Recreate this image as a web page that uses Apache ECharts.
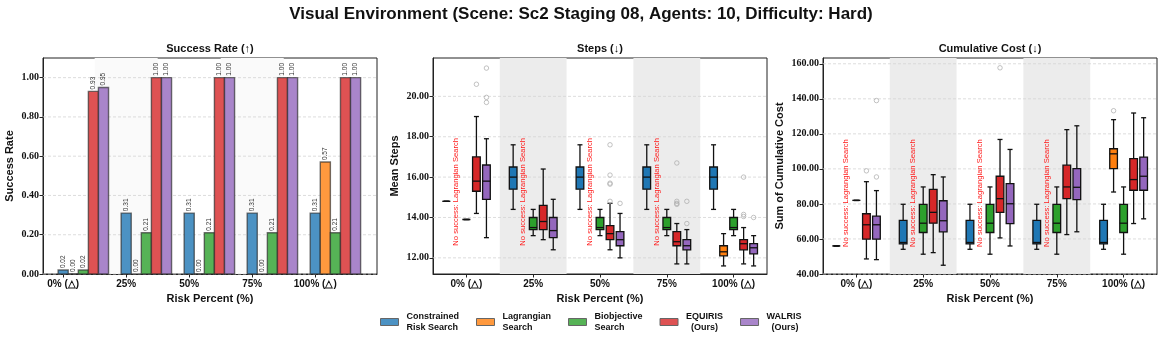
<!DOCTYPE html>
<html lang="en">
<head>
<meta charset="UTF-8">
<title>Visual Environment</title>
<style>html,body{margin:0;padding:0;background:#fff}</style>
</head>
<body>
<div id="main" style="width:1162px;height:343px"></div>
<script src="https://cdn.jsdelivr.net/npm/echarts@6/dist/echarts.min.js"></script>
<script>
// ---- data ----
var categories = ['0% (△)', '25%', '50%', '75%', '100% (△)'];
var methods = ['Constrained\nRisk Search', 'Lagrangian\nSearch', 'Biobjective\nSearch', 'EQUIRIS\n  (Ours)', 'WALRIS\n  (Ours)'];

// success rate, one value per category
var srConstrained = [0.02, 0.31, 0.31, 0.31, 0.31];
var srLagrangian  = [0.00, 0.00, 0.00, 0.00, 0.57];
var srBiobjective = [0.02, 0.21, 0.21, 0.21, 0.21];
var srEquiris     = [0.93, 1.00, 1.00, 1.00, 1.00];
var srWalris      = [0.95, 1.00, 1.00, 1.00, 1.00];

// mean steps boxes: [low whisker, q1, median, q3, high whisker], null = no success
var stepsConstrained = [[14.8, 14.8, 14.8, 14.8, 14.8], [14.4, 15.4, 16.0, 16.5, 17.6], [14.4, 15.4, 16.0, 16.5, 17.6], [14.4, 15.4, 16.0, 16.5, 17.6], [14.4, 15.4, 16.0, 16.5, 17.6]];
var stepsLagrangian  = [null, null, null, null, [11.6, 12.1, 12.3, 12.6, 13.2]];
var stepsBiobjective = [[13.9, 13.9, 13.9, 13.9, 13.9], [13.1, 13.4, 13.5, 14.0, 14.4], [13.1, 13.4, 13.5, 14.0, 14.4], [13.1, 13.4, 13.5, 14.0, 14.4], [13.1, 13.4, 13.5, 14.0, 14.4]];
var stepsEquiris     = [[14.2, 15.3, 15.8, 17.0, 19.0], [12.9, 13.4, 13.8, 14.6, 16.4], [12.4, 12.9, 13.2, 13.6, 14.7], [11.7, 12.6, 12.8, 13.3, 13.7], [11.7, 12.4, 12.7, 12.9, 13.5]];
var stepsWalris      = [[13.0, 14.9, 15.8, 16.6, 17.9], [12.4, 13.0, 13.35, 14.0, 14.9], [12.0, 12.6, 12.9, 13.3, 14.2], [11.7, 12.4, 12.6, 12.9, 13.4], [11.6, 12.2, 12.5, 12.7, 13.1]];
// outliers: [category, value]
var stepsOutEquiris = [[0, 20.6], [2, 17.6], [2, 16.1], [2, 15.7], [2, 15.65], [2, 14.8], [3, 16.7], [3, 14.8], [3, 14.7], [3, 14.65], [4, 16.0], [4, 14.15], [4, 14.05]];
var stepsOutWalris  = [[0, 21.4], [0, 19.95], [0, 19.7], [2, 14.7], [3, 14.8], [3, 13.7], [4, 14.0]];

// cumulative cost boxes
var costConstrained = [[56, 56, 56, 56, 56], [54.1, 57.2, 58.0, 70.6, 79.8], [54.1, 57.2, 58.0, 70.6, 79.8], [54.1, 57.2, 58.0, 70.6, 79.8], [54.1, 57.2, 58.0, 70.6, 79.8]];
var costLagrangian  = [null, null, null, null, [86.8, 100.2, 108.6, 111.5, 128.1]];
var costBiobjective = [[82, 82, 82, 82, 82], [51.3, 63.7, 69.0, 79.8, 89.7], [51.3, 63.7, 69.0, 79.8, 89.7], [51.3, 63.7, 69.0, 79.8, 89.7], [51.3, 63.7, 69.0, 79.8, 89.7]];
var costEquiris     = [[48.6, 59.9, 68.1, 74.4, 92.7], [52.2, 69.0, 75.2, 88.3, 96.7], [60.6, 75.2, 83.0, 95.8, 116.8], [62.5, 83.0, 89.7, 102.1, 122.4], [68.8, 87.8, 93.9, 105.9, 131.9]];
var costWalris      = [[48.2, 59.9, 68.1, 73.0, 87.6], [45.0, 64.1, 70.4, 81.8, 95.4], [56.0, 68.7, 80.1, 91.6, 111.1], [64.1, 82.4, 89.5, 100.2, 124.6], [71.5, 87.8, 95.8, 106.7, 129.2]];
var costOutLagrangian = [[4, 133.2]];
var costOutEquiris    = [[0, 98.9], [2, 157.7]];
var costOutWalris     = [[0, 139.0], [0, 95.4]];

var stepsTicks = [12, 14, 16, 18, 20];
var costTicks = [40, 60, 80, 100, 120, 140, 160];
var srTicks = [0, 0.2, 0.4, 0.6, 0.8, 1.0];

// ---- style ----
var SANS = 'Liberation Sans';
var SERIF = 'Liberation Serif';
var fullColors = ['#1f77b4', '#ff7f0e', '#2ca02c', '#d62728', '#9467bd'];
var barColors = ['#4c92c3', '#ff993e', '#56b356', '#de5253', '#a985ca'];
var BAR_W = 0.16;
var BOX_W = 0.115;
var boxOffsets = [-0.3, -0.15, 0, 0.15, 0.3];

var chart = echarts.init(document.getElementById('main'));

function barRender(j) {
  return function (params, api) {
    var x = api.value(0) + j * BAR_W;
    var v = api.value(1);
    var a = api.coord([x - BAR_W / 2, v]);
    var b = api.coord([x + BAR_W / 2, 0]);
    return {
      type: 'group',
      children: [
        { type: 'rect', shape: { x: a[0], y: a[1], width: b[0] - a[0], height: b[1] - a[1] },
          style: { fill: barColors[j], stroke: 'rgba(40,40,40,0.65)', lineWidth: 1.4 } },
        { type: 'text', x: (a[0] + b[0]) / 2, y: a[1] - 2, rotation: Math.PI / 2,
          style: { text: v.toFixed(2), fontSize: 6.5, fontFamily: SANS, fill: '#333', align: 'left', verticalAlign: 'middle' } }
      ]
    };
  };
}

function boxRender(j) {
  return function (params, api) {
    var x = api.value(0) + boxOffsets[j];
    var lo = api.coord([x, api.value(1)]);
    var q1 = api.coord([x, api.value(2)]);
    var md = api.coord([x, api.value(3)]);
    var q3 = api.coord([x, api.value(4)]);
    var hi = api.coord([x, api.value(5)]);
    var half = api.size([BOX_W, 0])[0] / 2;
    var cap = half * 0.65;
    var cx = lo[0];
    var ln = { stroke: '#111', lineWidth: 1.3 };
    return {
      type: 'group',
      children: [
        { type: 'line', shape: { x1: cx, y1: hi[1], x2: cx, y2: q3[1] }, style: ln },
        { type: 'line', shape: { x1: cx, y1: q1[1], x2: cx, y2: lo[1] }, style: ln },
        { type: 'line', shape: { x1: cx - cap, y1: hi[1], x2: cx + cap, y2: hi[1] }, style: ln },
        { type: 'line', shape: { x1: cx - cap, y1: lo[1], x2: cx + cap, y2: lo[1] }, style: ln },
        { type: 'rect', shape: { x: cx - half, y: q3[1], width: half * 2, height: q1[1] - q3[1] },
          style: { fill: fullColors[j], stroke: '#111', lineWidth: 1.3 } },
        { type: 'line', shape: { x1: cx - half, y1: md[1], x2: cx + half, y2: md[1] }, style: ln }
      ]
    };
  };
}

function bandSeries(gi, color) {
  return {
    type: 'custom', xAxisIndex: gi, yAxisIndex: gi, z: 0, silent: true,
    data: [[1], [3]],
    renderItem: function (params, api) {
      var cs = params.coordSys;
      var l = api.coord([api.value(0) - 0.5, 0])[0];
      var w = api.size([1, 0])[0];
      return { type: 'rect', shape: { x: l, y: cs.y, width: w, height: cs.height }, style: { fill: color } };
    }
  };
}

function gridLineSeries(gi, ticks) {
  return {
    type: 'custom', xAxisIndex: gi, yAxisIndex: gi, z: 1, silent: true,
    data: ticks.map(function (t) { return [0, t]; }),
    renderItem: function (params, api) {
      var cs = params.coordSys;
      var y = api.coord([0, api.value(1)])[1];
      return { type: 'line', shape: { x1: cs.x, y1: y, x2: cs.x + cs.width, y2: y },
        style: { stroke: '#d4d4d4', lineWidth: 0.8, lineDash: [3, 2] } };
    }
  };
}

function boxSeries(gi, j, boxes) {
  var data = [];
  boxes.forEach(function (b, i) { if (b) data.push([i].concat(b)); });
  return {
    type: 'custom', xAxisIndex: gi, yAxisIndex: gi, z: 3, name: methods[j] + '_box',
    encode: { x: 0, y: [1, 2, 3, 4, 5] },
    data: data, renderItem: boxRender(j)
  };
}

function outlierSeries(gi, j, pts) {
  return {
    type: 'scatter', xAxisIndex: gi, yAxisIndex: gi, z: 4, silent: true,
    symbol: 'circle', symbolSize: 4.5,
    itemStyle: { color: 'rgba(255,255,255,0)', borderColor: '#aaa', borderWidth: 0.9 },
    data: pts.map(function (p) { return [p[0] + boxOffsets[j], p[1]]; })
  };
}

function noSuccessSeries(gi, boxes, yMid) {
  var data = [];
  boxes.forEach(function (b, i) { if (!b) data.push([i, yMid]); });
  return {
    type: 'custom', xAxisIndex: gi, yAxisIndex: gi, z: 5, silent: true,
    data: data,
    renderItem: function (params, api) {
      var p = api.coord([api.value(0) + boxOffsets[1], api.value(1)]);
      return { type: 'text', x: p[0], y: p[1], rotation: Math.PI / 2,
        style: { text: 'No success: Lagrangian Search', fontSize: 7.6, fontFamily: SANS, fill: '#ff1a1a', align: 'center', verticalAlign: 'middle' } };
    }
  };
}

var xTickVals = [0, 1, 2, 3, 4];
function xAxisCfg(gi, min, max) {
  return {
    type: 'value', gridIndex: gi, min: min, max: max,
    name: 'Risk Percent (%)', nameLocation: 'middle', nameGap: 18,
    nameTextStyle: { fontFamily: SANS, fontWeight: 'bold', fontSize: 11, color: '#111' },
    axisLine: { onZero: false, lineStyle: { color: '#222', width: 1 } },
    axisTick: { show: true, customValues: xTickVals, length: 3.5, lineStyle: { color: '#222' } },
    axisLabel: { customValues: xTickVals, formatter: function (v) { return categories[Math.round(v)]; },
      fontFamily: SANS, fontWeight: 'bold', fontSize: 10, color: '#111', margin: 5 },
    splitLine: { show: false }
  };
}
function yAxisCfg(gi, min, max, ticks, name, gap) {
  return {
    type: 'value', gridIndex: gi, min: min, max: max,
    name: name, nameLocation: 'middle', nameGap: gap,
    nameTextStyle: { fontFamily: SANS, fontWeight: 'bold', fontSize: 11, color: '#111' },
    axisLine: { show: true, onZero: false, lineStyle: { color: '#222', width: 1 } },
    axisTick: { show: true, customValues: ticks, length: 3.5, lineStyle: { color: '#222' } },
    axisLabel: { customValues: ticks, formatter: function (v) { return v.toFixed(2); },
      fontFamily: SERIF, fontWeight: 'bold', fontSize: 10, color: '#111', margin: 4 },
    splitLine: { show: false }
  };
}

var srAll = [srConstrained, srLagrangian, srBiobjective, srEquiris, srWalris];
var stepsAll = [stepsConstrained, stepsLagrangian, stepsBiobjective, stepsEquiris, stepsWalris];
var costAll = [costConstrained, costLagrangian, costBiobjective, costEquiris, costWalris];

var series = [bandSeries(0, '#fafafa'), bandSeries(1, '#ececec'), bandSeries(2, '#ececec'),
  gridLineSeries(0, srTicks), gridLineSeries(1, stepsTicks), gridLineSeries(2, costTicks)];

srAll.forEach(function (vals, j) {
  series.push({
    type: 'custom', name: methods[j], xAxisIndex: 0, yAxisIndex: 0, z: 3,
    itemStyle: { color: barColors[j] },
    encode: { x: 0, y: 1 },
    data: vals.map(function (v, i) { return [i, v]; }),
    renderItem: barRender(j)
  });
});
stepsAll.forEach(function (b, j) { series.push(boxSeries(1, j, b)); });
costAll.forEach(function (b, j) { series.push(boxSeries(2, j, b)); });
series.push(outlierSeries(1, 3, stepsOutEquiris), outlierSeries(1, 4, stepsOutWalris));
series.push(outlierSeries(2, 1, costOutLagrangian), outlierSeries(2, 3, costOutEquiris), outlierSeries(2, 4, costOutWalris));
series.push(noSuccessSeries(1, stepsLagrangian, 15.27), noSuccessSeries(2, costLagrangian, 86.2));

var subTitle = { fontFamily: SANS, fontWeight: 'bold', fontSize: 11, color: '#111' };
var option = {
  animation: false,
  backgroundColor: '#fff',
  title: [
    { text: 'Visual Environment (Scene: Sc2 Staging 08, Agents: 10, Difficulty: Hard)', left: 581, top: 6, padding: 0, textAlign: 'center',
      textStyle: { fontFamily: SANS, fontWeight: 'bold', fontSize: 17, color: '#111' } },
    { text: 'Success Rate (↑)', left: 210, top: 43, padding: 0, textAlign: 'center', textStyle: subTitle },
    { text: 'Steps (↓)', left: 600, top: 43, padding: 0, textAlign: 'center', textStyle: subTitle },
    { text: 'Cumulative Cost (↓)', left: 990, top: 43, padding: 0, textAlign: 'center', textStyle: subTitle }
  ],
  grid: [
    { left: 43, top: 58, width: 334, height: 216, show: true, borderColor: '#222', borderWidth: 1, backgroundColor: '#fff' },
    { left: 433, top: 58, width: 334, height: 216, show: true, borderColor: '#222', borderWidth: 1, backgroundColor: '#fff' },
    { left: 823, top: 58, width: 334, height: 216, show: true, borderColor: '#222', borderWidth: 1, backgroundColor: '#fff' }
  ],
  xAxis: [xAxisCfg(0, -0.32, 4.98), xAxisCfg(1, -0.5, 4.5), xAxisCfg(2, -0.5, 4.5)],
  yAxis: [
    yAxisCfg(0, 0, 1.1, srTicks, 'Success Rate', 28),
    yAxisCfg(1, 11.2, 21.9, stepsTicks, 'Mean Steps', 33),
    yAxisCfg(2, 40, 163.3, costTicks, 'Sum of Cumulative Cost', 38)
  ],
  legend: {
    data: methods, left: 375, top: 306, icon: 'rect', itemWidth: 18, itemHeight: 7, itemGap: 17,
    itemStyle: { borderColor: '#666', borderWidth: 1 },
    textStyle: { fontFamily: SANS, fontWeight: 'bold', fontSize: 9, lineHeight: 11, color: '#111', padding: [0, 0, 0, 3] },
    selectedMode: false
  },
  series: series
};
chart.setOption(option);
</script>
</body>
</html>
